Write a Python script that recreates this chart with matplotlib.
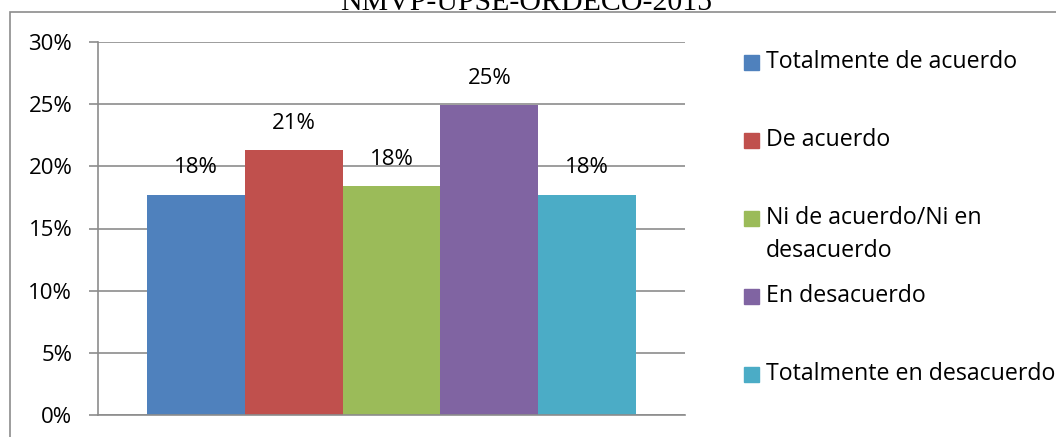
import matplotlib
matplotlib.use("Agg")
import matplotlib.pyplot as plt
from matplotlib.patches import Rectangle

categorias = ["Totalmente de acuerdo", "De acuerdo", "Ni de acuerdo/Ni en\ndesacuerdo",
              "En desacuerdo", "Totalmente en desacuerdo"]
valores = [17.7, 21.3, 18.4, 24.9, 17.7]
etiquetas = ["18%", "21%", "18%", "25%", "18%"]
colores = ["#4F81BD", "#C0504D", "#9BBB59", "#8064A2", "#4BACC6"]
titulo = "NMVP-UPSE-ORDECO-2015"

W, H = 1056, 437
plt.rcParams['font.family'] = ['Open Sans', 'DejaVu Sans']
fig = plt.figure(figsize=(W / 100, H / 100), dpi=100)

# marco exterior del grafico (sale por la derecha y por abajo)
fig.patches.append(Rectangle((10 / W, -0.1), 1.2, (H - 12) / H + 0.1, transform=fig.transFigure,
                             fill=False, edgecolor="#8c8c8c", linewidth=1.2, clip_on=False))
fig.text(526 / W, (H - 10) / H, titulo, ha="center", va="baseline",
         fontsize=21.5, family="Liberation Serif")

ax = fig.add_axes([98 / W, 22 / H, 587 / W, 373 / H])
x = range(len(valores))
ax.bar(x, valores, width=1.0, color=colores)
for i, v in enumerate(valores):
    ax.annotate(etiquetas[i], (i, v), xytext=(0, 19.5), textcoords="offset points",
                ha="center", va="center", fontsize=16)

ax.set_xlim(-1, 5)
ax.set_ylim(0, 30)
ax.set_yticks(range(0, 31, 5))
ax.set_yticklabels([f"{t}%" for t in range(0, 31, 5)], fontsize=16)
ax.set_xticks([])
ax.yaxis.grid(True, color="#8c8c8c", linewidth=1.2)
ax.set_axisbelow(True)
for s in ["top", "right"]:
    ax.spines[s].set_visible(False)
for s in ["left", "bottom"]:
    ax.spines[s].set_color("#8c8c8c")
    ax.spines[s].set_linewidth(1.2)
ax.tick_params(axis="y", length=6.5, color="#8c8c8c", width=1.2, pad=12)

# leyenda
y0 = 62
for i, cat in enumerate(categorias):
    yc = y0 + 78 * i
    fig.patches.append(Rectangle((744 / W, (H - yc - 7.5) / H), 15 / W, 15 / H,
                                 transform=fig.transFigure, color=colores[i]))
    for j, linea in enumerate(cat.split("\n")):
        fig.text(766 / W, (H - yc - 33 * j) / H, linea, ha="left", va="center", fontsize=16.7)

fig.savefig("out.png", dpi=100)
